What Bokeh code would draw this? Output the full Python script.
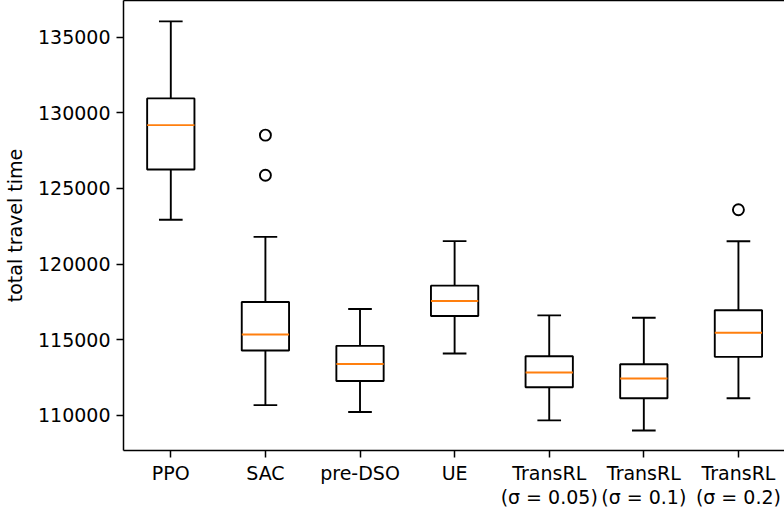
from bokeh.plotting import figure
from bokeh.models import FixedTicker, LinearAxis, Range1d
from bokeh.embed import file_html
from bokeh.resources import INLINE

# ---- data ----
categories = ["PPO", "SAC", "pre-DSO", "UE",
              "TransRL\n(σ = 0.05)", "TransRL\n(σ = 0.1)", "TransRL\n(σ = 0.2)"]
lower_whisker = [122930, 110680, 110220, 114090, 109670, 109000, 111130]
q1 = [126250, 114290, 112275, 116565, 111860, 111130, 113870]
median = [129185, 115350, 113400, 117560, 112830, 112435, 115460]
q3 = [130950, 117490, 114595, 118575, 113910, 113380, 116945]
upper_whisker = [136040, 121800, 117030, 121520, 116610, 116450, 121505]
outlier_cat = [1, 1, 6]          # index into categories
outlier_val = [128520, 125870, 123595]
y_ticks = [110000, 115000, 120000, 125000, 130000, 135000]

pos = [i + 1 for i in range(len(categories))]
box_w = 0.5
cap_w = 0.25

FONT = "DejaVu Sans"
FS = "19px"

p = figure(width=784, height=510, output_backend="svg", toolbar_location=None,
           x_range=Range1d(0.5, 7.487), y_range=Range1d(107680, 137420),
           min_border_left=123, min_border_right=0, min_border_top=0,
           min_border_bottom=60)
p.outline_line_color = None
p.grid.visible = False
p.background_fill_color = "white"
p.border_fill_color = "white"

# boxes
p.vbar(x=pos, width=box_w, bottom=q1, top=q3, fill_color="white",
       line_color="black", line_width=1.9)
# whiskers
p.segment(x0=pos, x1=pos, y0=q3, y1=upper_whisker, line_color="black", line_width=1.9)
p.segment(x0=pos, x1=pos, y0=lower_whisker, y1=q1, line_color="black", line_width=1.9)
# caps
p.segment(x0=[x - cap_w / 2 for x in pos], x1=[x + cap_w / 2 for x in pos],
          y0=upper_whisker, y1=upper_whisker, line_color="black", line_width=1.9)
p.segment(x0=[x - cap_w / 2 for x in pos], x1=[x + cap_w / 2 for x in pos],
          y0=lower_whisker, y1=lower_whisker, line_color="black", line_width=1.9)
# medians
p.segment(x0=[x - box_w / 2 for x in pos], x1=[x + box_w / 2 for x in pos],
          y0=median, y1=median, line_color="#ff7f0e", line_width=1.9)
# outliers
p.scatter(x=[pos[i] for i in outlier_cat], y=outlier_val, marker="circle", size=11,
          fill_color=None, line_color="black", line_width=1.9)

# axes
p.xaxis.ticker = FixedTicker(ticks=pos)
p.xaxis.major_label_overrides = {pos[i]: categories[i] for i in range(len(categories))}
p.yaxis.ticker = FixedTicker(ticks=y_ticks)
p.yaxis.formatter.use_scientific = False
p.yaxis.axis_label = "total travel time"
p.yaxis.axis_label_text_font_style = "normal"
p.yaxis.axis_label_text_font = FONT
p.yaxis.axis_label_text_font_size = FS
p.yaxis.axis_label_text_color = "black"
p.yaxis.axis_label_standoff = 9

for ax in (p.xaxis, p.yaxis):
    ax.major_label_text_font = FONT
    ax.major_label_text_font_size = FS
    ax.major_label_text_color = "black"
    ax.axis_line_color = "black"
    ax.axis_line_width = 1.5
    ax.major_tick_line_color = "black"
    ax.major_tick_line_width = 1.5
    ax.major_tick_out = 7
    ax.major_tick_in = 0
    ax.minor_tick_line_color = None
    ax.major_label_standoff = 6
p.xaxis.major_label_standoff = 4
p.xaxis.major_label_text_line_height = 1.1

# top spine
top = LinearAxis(ticker=FixedTicker(ticks=[]), major_tick_out=0, major_tick_in=0,
                 minor_tick_line_color=None, major_label_standoff=0,
                 axis_line_color="black", axis_line_width=1.5)
p.add_layout(top, "above")

open("out.html", "w").write(file_html(p, INLINE))
